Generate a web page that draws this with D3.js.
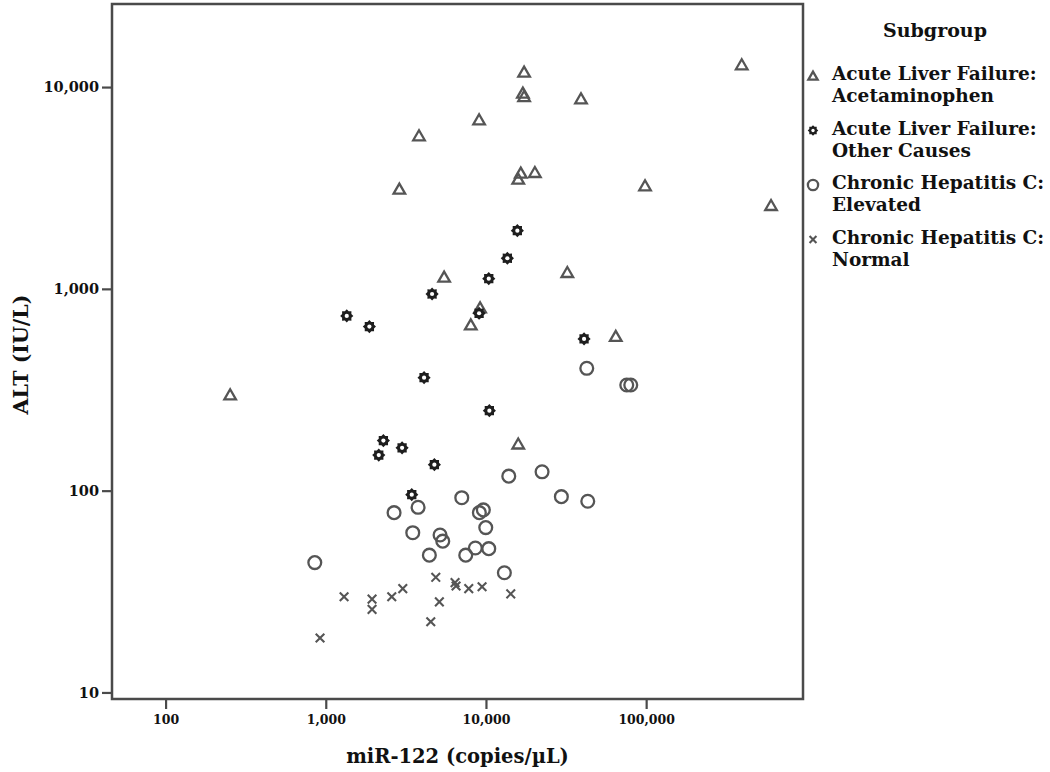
<!DOCTYPE html>
<html>
<head>
<meta charset="utf-8">
<script src="https://cdn.jsdelivr.net/npm/d3@7/dist/d3.min.js"></script>
<style>
  html, body { margin: 0; padding: 0; background: #fff; }
  svg { display: block; }
  text { font-family: "DejaVu Serif", "Liberation Serif", serif; fill: #111; }
</style>
</head>
<body>
<svg id="chart" width="1050" height="772"></svg>
<script>
// ---- Data ----
const categories = [
  ["Acute Liver Failure:", "Acetaminophen"],
  ["Acute Liver Failure:", "Other Causes"],
  ["Chronic Hepatitis C:", "Elevated"],
  ["Chronic Hepatitis C:", "Normal"]
];
const legendTitle = "Subgroup";

// Acute Liver Failure: Acetaminophen
const apapMir = [17300, 395000, 17000, 17300, 39200, 9060, 3820, 2880, 16500, 20200, 15900, 98400, 602000, 5480, 32200, 8040, 9190, 64600, 15900, 253];
const apapAlt = [11840, 12870, 9320, 8960, 8730, 6870, 5725, 3116, 3740, 3765, 3493, 3235, 2584, 1141, 1203, 662, 804, 580, 170, 298];

// Acute Liver Failure: Other Causes
const otherMir = [15700, 13600, 10410, 4610, 1352, 1872, 9060, 40960, 4108, 10500, 2289, 2995, 2142, 4764, 3442];
const otherAlt = [1943, 1418, 1123, 943, 734, 650, 757, 565, 363, 249, 177, 163, 150, 134.5, 95.5];

// Chronic Hepatitis C: Elevated
const hcvElevMir = [13880, 22400, 29560, 43200, 7063, 2669, 3769, 9095, 9630, 9970, 3492, 5170, 5375, 4433, 7478, 8585, 10410, 13030, 854, 42590, 75670, 80140];
const hcvElevAlt = [118, 124, 93.4, 88.6, 92.3, 77.8, 82.7, 77.8, 80.3, 65.6, 61.9, 60.3, 56.2, 47.9, 47.9, 52.0, 51.6, 39.2, 44.0, 404, 334, 334];

// Chronic Hepatitis C: Normal
const hcvNormMir = [1301, 1945, 1945, 2582, 3025, 4861, 5118, 4523, 6413, 6507, 7808, 9456, 14280, 921];
const hcvNormAlt = [29.8, 29.0, 25.8, 29.8, 32.7, 37.2, 28.1, 22.4, 35.0, 33.7, 32.7, 33.4, 30.8, 18.6];

const xTickValues = [100, 1000, 10000, 100000];
const xTickLabels = ["100", "1,000", "10,000", "100,000"];
const yTickValues = [10, 100, 1000, 10000];
const yTickLabels = ["10", "100", "1,000", "10,000"];
const xDomain = [46.3, 953000];
const yDomain = [9.28, 25800];
const xTitle = "miR-122 (copies/\u00B5L)";
const yTitle = "ALT (IU/L)";

// ---- Layout ----
const svg = d3.select("#chart");
const plot = { left: 112, right: 803, top: 4, bottom: 699 };

const x = d3.scaleLog().domain(xDomain).range([plot.left, plot.right]);
const y = d3.scaleLog().domain(yDomain).range([plot.bottom, plot.top]);

const frameColor = "#4a4a4a";
const markColor = "#555";

// axes
const xAxis = d3.axisBottom(x).tickValues(xTickValues)
  .tickFormat((d, i) => xTickLabels[i]).tickSize(10).tickPadding(6);
const yAxis = d3.axisLeft(y).tickValues(yTickValues)
  .tickFormat((d, i) => yTickLabels[i]).tickSize(10).tickPadding(3);

const gx = svg.append("g").attr("transform", `translate(0,${plot.bottom})`).call(xAxis);
gx.select(".domain").remove();
gx.selectAll(".tick line").attr("stroke", frameColor).attr("stroke-width", 2.2);
gx.selectAll(".tick text").attr("font-size", 12.5).attr("font-family", "DejaVu Serif")
  .style("font-weight", "bold").attr("fill", "#111");

const gy = svg.append("g").attr("transform", `translate(${plot.left},0)`).call(yAxis);
gy.select(".domain").remove();
gy.selectAll(".tick line").attr("stroke", frameColor).attr("stroke-width", 2.2);
gy.selectAll(".tick text").attr("font-size", 14.5).attr("font-family", "DejaVu Serif")
  .style("font-weight", "bold").attr("fill", "#111");

// frame
svg.append("rect")
  .attr("x", plot.left).attr("y", plot.top)
  .attr("width", plot.right - plot.left).attr("height", plot.bottom - plot.top)
  .attr("fill", "none").attr("stroke", frameColor).attr("stroke-width", 2.5);

// axis titles
svg.append("text").attr("x", (plot.left + plot.right) / 2).attr("y", 763)
  .attr("text-anchor", "middle").attr("font-size", 19.5).style("font-weight", "bold").text(xTitle);
svg.append("text")
  .attr("transform", `translate(28,${(plot.top + plot.bottom) / 2 + 3}) rotate(-90)`)
  .attr("text-anchor", "middle").attr("font-size", 20.5).style("font-weight", "bold").text(yTitle);

// ---- marker drawing ----
const triPath = d3.symbol().type(d3.symbolTriangle).size(58)();
function starPath(r1, r2, n) {
  const pts = [];
  for (let i = 0; i < n * 2; i++) {
    const r = i % 2 === 0 ? r1 : r2;
    const a = Math.PI * i / n - Math.PI / 2;
    pts.push([r * Math.cos(a), r * Math.sin(a)]);
  }
  return "M" + pts.map(p => p.join(",")).join("L") + "Z";
}
const star = starPath(6.6, 5.0, 8);

function drawMarker(g, type, scale) {
  const s = scale || 1;
  if (type === 0) {
    g.append("path").attr("d", triPath).attr("transform", `translate(0,1) scale(${s})`)
      .attr("fill", "none").attr("stroke", markColor).attr("stroke-width", 2.3 / s);
  } else if (type === 1) {
    g.append("path").attr("d", star).attr("transform", `scale(${s})`).attr("fill", "#1e1e1e");
    g.append("circle").attr("r", 2.1 * s).attr("fill", "#fff");
  } else if (type === 2) {
    g.append("circle").attr("r", 6.4 * s).attr("fill", "none")
      .attr("stroke", markColor).attr("stroke-width", 2.3);
  } else {
    const h = 4.3 * s;
    g.append("path").attr("d", `M${-h},${-h}L${h},${h}M${-h},${h}L${h},${-h}`)
      .attr("stroke", markColor).attr("stroke-width", 2.1);
  }
}

const groups = [
  { mir: apapMir, alt: apapAlt },
  { mir: otherMir, alt: otherAlt },
  { mir: hcvElevMir, alt: hcvElevAlt },
  { mir: hcvNormMir, alt: hcvNormAlt }
];

const pts = svg.append("g");
// draw so that acute groups appear on top
[3, 2, 0, 1].forEach(gi => {
  const grp = groups[gi];
  grp.mir.forEach((mv, i) => {
    const g = pts.append("g").attr("transform", `translate(${x(mv)},${y(grp.alt[i])})`);
    drawMarker(g, gi, 1);
  });
});

// ---- legend ----
svg.append("text").attr("x", 935).attr("y", 37).attr("text-anchor", "middle")
  .attr("font-size", 19).style("font-weight", "bold").text(legendTitle);

categories.forEach((lines, i) => {
  const base = 80 + i * 54.5;
  const mg = svg.append("g").attr("transform", `translate(813,${base - 4})`);
  drawMarker(mg, i, 0.8);
  lines.forEach((ln, j) => {
    svg.append("text").attr("x", 832).attr("y", base + j * 22)
      .attr("font-size", 18.5).style("font-weight", "bold").text(ln);
  });
});
</script>
</body>
</html>
